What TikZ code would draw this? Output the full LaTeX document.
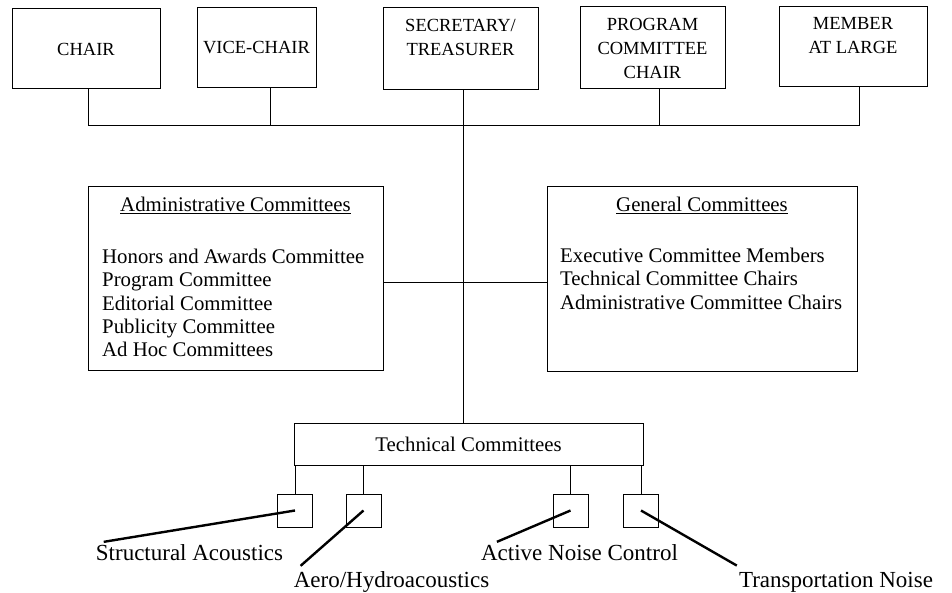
\documentclass[tikz,border=0pt]{standalone}
\usepackage{fontspec}
\setmainfont{Liberation Serif}
\usepackage{tikz}

\begin{document}
\begin{tikzpicture}[x=1pt, y=-1pt,
  officer/.style={draw, line width=1pt, align=center, inner sep=0pt, font=\fontsize{18.5}{24}\selectfont},
  panel/.style={draw, line width=1pt, inner sep=0pt},
  entry/.style={inner sep=0pt, font=\fontsize{20.8}{23}\selectfont},
  tcbox/.style={draw, line width=1pt, minimum width=35pt, minimum height=33pt, inner sep=0pt},
  tclabel/.style={inner sep=0pt, anchor=base, font=\fontsize{23}{27}\selectfont},
  link/.style={line width=1pt},
  leader/.style={line width=2.4pt}]
  \useasboundingbox (0,0) rectangle (952,593);
  \node[officer, minimum width=148pt, minimum height=80pt] (chair) at (86,49) {CHAIR};
  \node[officer, minimum width=119pt, minimum height=80pt] (vice) at (256.5,48) {VICE-CHAIR};
  \node[officer, minimum width=155pt, minimum height=82pt] (secr) at (460.5,49) {SECRETARY/\\TREASURER\\~};
  \node[officer, minimum width=145pt, minimum height=82pt] (prog) at (652.5,48) {PROGRAM\\COMMITTEE\\CHAIR};
  \node[officer, minimum width=148pt, minimum height=80pt] (member) at (853,47) {MEMBER\\AT LARGE\\~};
  \coordinate (b1) at (88,126);
  \coordinate (b2) at (270,126);
  \coordinate (b3) at (463,126);
  \coordinate (b4) at (659,126);
  \coordinate (b5) at (859,126);
  \draw[link] (b1) -- (b5);
  \foreach \b/\n in {b1/chair, b2/vice, b4/prog, b5/member}
    \draw[link] (\b) -- (\b |- \n.south);

  \node[panel, minimum width=295pt, minimum height=183pt] (admin) at (235.5,278.5) {};
  \node[entry, anchor=base] (adminhead) at (235.5,212) {\underline{Administrative Committees}};
  \foreach \t [count=\i] in {Honors and Awards Committee, Program Committee, Editorial Committee, Publicity Committee, Ad Hoc Committees}
    \node[entry, anchor=base west] (admin\i) at (102,241+23*\i) {\t};
  \node[panel, minimum width=310pt, minimum height=184pt] (general) at (702,279) {};
  \node[entry, anchor=base] (generalhead) at (702,212) {\underline{General Committees}};
  \foreach \t [count=\i] in {Executive Committee Members, Technical Committee Chairs, Administrative Committee Chairs}
    \node[entry, anchor=base west] (general\i) at (560,240+23*\i) {\t};
  \coordinate (j) at (463,283);
  \draw[link] (j -| admin.east) -- (j -| general.west);

  \node[panel, entry, minimum width=349pt, minimum height=42pt] (tech) at (468.5,444) {Technical Committees};
  \draw[link] (b3 |- secr.south) -- (b3 |- tech.north);
  \foreach \n/\x in {sa/295, ah/363.5, an/570.5, tn/641}
    \node[tcbox] (\n) at (\x,510.5) {};
  \foreach \n in {sa, ah, an, tn}
    \draw[link] (\n.north) -- (\n.north |- tech.south);

  \node[tclabel] (salabel) at (189.5,560) {Structural Acoustics};
  \node[tclabel] (ahlabel) at (391.5,587) {Aero/Hydroacoustics};
  \node[tclabel] (anlabel) at (579.5,560) {Active Noise Control};
  \node[tclabel] (tnlabel) at (836,587) {Transportation Noise};
  \draw[leader] (salabel.north west) ++(8,-2) -- (sa.center);
  \draw[leader] (ahlabel.north west) ++(7,-5) -- (ah.center);
  \draw[leader] (anlabel.north west) ++(16,-2) -- (an.center);
  \draw[leader] (tnlabel.north west) ++(-2,-6) -- (tn.center);
\end{tikzpicture}
\end{document}
